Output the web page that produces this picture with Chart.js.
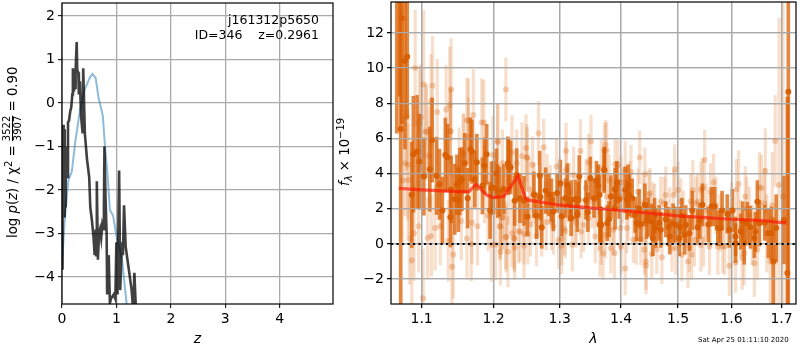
<!DOCTYPE html>
<html><head><meta charset="utf-8">
<style>html,body{margin:0;padding:0;background:#fff;width:800px;height:350px;overflow:hidden}
canvas{position:absolute;top:0}</style>
<script src="https://cdn.jsdelivr.net/npm/chart.js@4"></script>
</head><body>
<canvas id="pz" width="334" height="350" style="left:0"></canvas>
<canvas id="sp" width="466" height="352" style="left:334px;top:-2px"></canvas>
<script>
const zTicks=[0,1,2,3,4];
const pzTicks=[-4,-3,-2,-1,0,1,2];
const lamTicks=[1.1,1.2,1.3,1.4,1.5,1.6,1.7];
const fluxTicks=[-2,0,2,4,6,8,10,12];
const zBlack=[0,0.005,0.01,0.015,0.02,0.025,0.03,0.035,0.04,0.045,0.05,0.055,0.06,0.065,0.07,0.08,0.09,0.1,0.11,0.13,0.15,0.17,0.19,0.2,0.22,0.24,0.25,0.27,0.28,0.3,0.31,0.33,0.35,0.38,0.39,0.42,0.46,0.5,0.52,0.55,0.58,0.6,0.62,0.63,0.64,0.66,0.68,0.7,0.72,0.74,0.76,0.77,0.78,0.8,0.82,0.83,0.85,0.86,0.88,0.9,0.95,0.98,1.0,1.02,1.05,1.07,1.1,1.12,1.14,1.17,1.28,1.31,1.33,1.36];
const logBlack=[-3.8,-1.0,-2.6,-0.5,-2.5,-0.5,-2.6,-0.5,-2.6,-0.6,-1.0,-2.2,-1.0,-2.4,-1.6,-1.1,-1.0,-1.7,-0.45,-0.4,-0.2,-0.1,0.2,0.8,0.3,0.35,0.75,1.4,0.75,0.7,0.2,0.5,-0.3,-0.7,0.8,-0.7,-1.3,-1.7,-2.4,-2.7,-3.1,-3.5,-2.9,-3.5,-1.8,-3.6,-3.0,-2.9,-3.1,-2.8,-2.9,-2.4,-1.0,-2.2,-3.0,-4.4,-3.5,-3.6,-4.6,-4.5,-4.4,-4.5,-3.2,-4.4,-1.55,-4.3,-3.2,-3.5,-2.35,-3.3,-4.3,-4.8,-3.9,-4.8];
const zBlue=[0,0.055,0.117,0.18,0.24,0.33,0.42,0.51,0.56,0.62,0.67,0.75,0.79,0.83,0.88,0.94,1.0,1.1,1.19];
const logBlue=[-3.7,-2.6,-1.77,-1.58,-0.93,-0.17,0.32,0.58,0.67,0.57,0.13,-0.29,-1.0,-1.54,-2.45,-2.6,-3.05,-3.58,-4.64];
const lamModel=[1.07,1.1,1.15,1.165,1.175,1.19,1.2,1.215,1.225,1.236,1.247,1.25,1.3,1.33,1.4,1.5,1.6,1.66,1.7,1.71];
const fluxModel=[3.16,3.07,2.97,2.99,3.39,2.78,2.63,2.7,3.26,3.86,2.63,2.5,2.2,2.1,1.9,1.59,1.4,1.33,1.21,1.2];
const zeroLam=[1.06,1.73];
const zeroFlux=[0,0];
const lamFaint=[
1.0914,1.1026,1.1146,1.14,1.1125,1.133,1.138,1.121,1.218,1.08,
1.099,1.097,1.162,1.171,1.183,1.106,1.139,1.164,1.206,1.267,
1.275,1.248,1.227,1.31,1.333,1.082,1.11,1.157,1.199,1.242,
1.249,1.258,1.295,1.075,1.084,1.09,1.096,1.087,1.102,1.108,
1.113,1.118,1.125,1.136,1.143,1.141,1.154,1.162,1.168,1.169,
1.177,1.192,1.197,1.203,1.209,1.21,1.213,1.218,1.221,1.227,
1.231,1.231,1.237,1.245,1.245,1.251,1.255,1.264,1.272,1.279,
1.29,1.298,1.303,1.303,1.309,1.32,1.326,1.334,1.374,1.372,
1.432,1.395,1.39,1.367,1.407,1.417,1.441,1.494,1.5,1.429,
1.392,1.448,1.478,1.492,1.527,1.523,1.505,1.469,1.438,1.412,
1.387,1.399,1.41,1.374,1.367,1.37,1.365,1.383,1.389,1.4,
1.407,1.421,1.426,1.434,1.44,1.443,1.443,1.453,1.462,1.471,
1.489,1.496,1.507,1.518,1.525,1.521,1.53,1.549,1.687,1.667,
1.566,1.614,1.61,1.627,1.655,1.659,1.545,1.542,1.56,1.536,
1.695,1.703,1.681,1.547,1.574,1.587,1.625,1.621,1.596,1.608,
1.645,1.677,1.651,1.687,1.542,1.558,1.56,1.635,1.641,1.618,
1.583,1.25,1.234,1.213,1.35,1.376,1.346,1.31,1.239,1.23,
1.218,1.21,1.213,1.287,1.307,1.325,1.338,1.346,1.357,1.376,
1.285,1.106,1.139,1.078,1.082,1.164,1.186,1.206,1.157,1.151,
1.187,1.222,1.26,1.28,1.315,1.342,1.36,1.38,1.403,1.415,
1.45,1.458,1.475,1.485,1.51,1.533,1.552,1.57,1.578,1.6,
1.63,1.665,1.67,1.253,1.268,1.3,1.322,1.352,1.4,1.455];
const fluxFaint=[
10.0,9.07,9.0,8.78,8.08,7.65,7.9,7.5,8.78,7.2,
7.2,6.9,7.04,7.33,6.9,6.4,6.4,6.1,5.8,6.3,
5.5,5.45,5.2,5.28,5.28,4.5,5,5.1,5.05,5,
4.9,4.5,4.4,3.6,0.3,0.6,1.0,-0.95,-3.1,0.33,
0.45,0.9,1.0,0.17,-0.6,-1.3,1.3,0.3,0,1.2,
1.0,1.6,-0.05,-0.05,1,-0.45,1.5,0.4,-0.45,0.6,
0.3,-0.2,0.7,0.55,-0.1,0.55,1.1,0.45,0.9,1.25,
1,0.2,0.3,-0.1,0.7,-0.05,1.2,0.7,5.63,5.34,
4.92,4.49,4.53,4.3,4.24,4.11,3.96,4.24,3.07,2.97,
3.35,2.78,2.78,2.78,3.07,2.41,2.41,2.41,2.31,1.59,
0.8,0.9,0.9,0.5,0.23,-0.53,-0.25,-0.25,-0.53,-0.15,
-1.4,0.23,0.23,0.28,-0.34,-1,-1.25,-0.57,-0.3,-0.76,
-0.25,-0.25,-0.62,-1,-0.62,-0.19,0.23,4.77,5.85,4.15,
3.5,3.41,3.11,2.69,3.22,3.16,3.16,3.07,2.97,2.41,
3.35,2.69,2.2,0.23,-0.15,-0.15,-0.53,-0.81,-1.25,-1.06,
-1.1,-1,-0.34,-1,-0.06,-0.15,1.36,1.65,0.5,0.9,
-0.15,4.93,4.59,4.59,5.82,5.31,4.64,4.21,0.7,0.33,
0.38,0.99,1.5,1.27,0.86,1.46,1.08,1.46,0.42,2.69,
2.79,6.38,6.42,4.59,3.64,7.0,6.9,5.82,5.16,4.3,
3.4,3.1,2.9,3.4,3.0,3.2,2.5,3.6,2.7,3.3,
2.9,1.9,2.3,1.7,1.6,2.3,1.9,2.2,1.2,1.9,
2.0,2.3,0.6,3.1,2.2,3.3,3.9,2.4,3.5,2.0];
const errFaint=[
3.3,4.2,2.8,2.9,2.7,2.5,3.3,3.0,1.8,3.0,
3.0,3.2,2.4,2.6,2.5,2.7,2.4,2.2,2.2,1.8,
1.6,1.9,2.1,1.6,1.8,3.1,2.8,2.3,2.2,1.9,
1.9,1.6,1.6,3.5,2.6,2.7,2.6,3.0,2.8,2.3,
2.3,2.4,2.2,2.3,2.5,2.6,2.2,2.2,2.1,2.3,
2.2,2.0,2.1,2.0,1.9,1.9,1.8,2.0,2.0,1.9,
1.9,1.8,1.8,1.7,1.8,1.7,1.8,1.7,1.6,1.6,
1.6,1.6,1.5,1.6,1.5,1.5,1.4,1.5,1.4,1.5,
1.5,1.4,1.4,1.6,1.6,1.5,1.5,1.4,1.6,1.3,
1.3,1.4,1.6,1.4,1.7,1.6,1.3,1.4,1.5,1.4,
1.4,1.3,1.4,1.3,1.4,1.5,1.6,1.4,1.4,1.5,
1.5,1.3,1.4,1.5,1.4,1.6,1.6,1.4,1.4,1.5,
1.3,1.5,1.5,1.5,1.4,1.4,1.5,1.7,2.6,2.4,
1.6,1.9,1.7,1.7,2.0,1.9,1.7,1.6,1.6,1.6,
9.5,12,3.0,1.5,1.6,1.6,1.8,1.8,1.7,1.7,
1.9,2.6,1.7,3.0,1.5,1.6,1.5,1.6,1.7,1.6,
1.5,1.7,1.9,1.9,1.5,1.6,1.6,1.6,1.7,1.8,
1.8,1.8,1.8,1.6,1.5,1.5,1.5,1.5,1.5,1.4,
1.7,2.6,2.5,3.0,3.2,2.4,2.4,2.1,2.2,2.3,
2.2,2.0,1.7,1.7,1.6,1.6,1.5,1.5,1.5,1.4,
1.4,1.5,1.5,1.5,1.4,1.5,1.5,1.6,1.6,1.6,
1.8,2.0,2.2,1.8,1.7,1.6,1.6,1.5,1.5,1.5];
const lamDark=[
1.0675,1.071,1.0725,1.074,1.078,1.081,1.087,1.089,1.094,1.097,
1.103,1.111,1.114,1.12,1.124,1.128,1.132,1.135,1.139,1.145,
1.148,1.152,1.155,1.159,1.163,1.167,1.169,1.173,1.176,1.184,
1.187,1.195,1.197,1.221,1.222,1.225,1.215,1.209,1.234,1.231,
1.239,1.245,1.26,1.269,1.264,1.272,1.27,1.278,1.283,1.287,
1.29,1.301,1.303,1.309,1.312,1.318,1.318,1.325,1.33,1.331,
1.342,1.349,1.355,1.359,1.365,1.372,1.364,1.367,1.25,1.372,
1.383,1.39,1.397,1.365,1.377,1.407,1.41,1.414,1.419,1.424,
1.427,1.434,1.441,1.447,1.453,1.455,1.46,1.469,1.483,1.485,
1.502,1.512,1.514,1.521,1.39,1.503,1.491,1.536,1.545,1.562,
1.568,1.574,1.579,1.592,1.596,1.608,1.618,1.631,1.637,1.647,
1.655,1.645,1.673,1.679,1.689,1.705,1.683,1.625,1.608,1.714,
1.712,1.2,1.204,1.206,1.296,1.315,1.328,1.345,1.362,1.38,
1.393,1.412,1.431,1.444,1.458,1.466,1.478,1.495,1.507,1.526,
1.54,1.556,1.582,1.602,1.622,1.651,1.666,1.14,1.15,1.19];
const fluxDark=[
14.5,16,6.53,12.84,10.4,10.64,2.79,5.1,5.25,4.68,
3.83,4.25,5.91,3.87,3.39,1.9,5.06,4.91,1.52,2.54,
3.36,3.55,3.68,4.59,2.6,5.38,5.25,3.68,4.64,3.3,
4.44,1.9,3.17,4.59,4.4,4.36,3.11,2.98,3.92,2.45,
2.6,2.45,2.79,3.87,1.6,0.95,2.66,3.03,2.79,2.5,
1.84,3.45,1.56,2.6,3.36,2.5,1.46,2.54,2.5,3.83,
2.5,3.74,2.6,3.6,1.14,4.21,2.79,1.08,1.56,4.2,
2.69,3.11,2.54,1.08,1.18,3.07,2.5,2.78,2.6,1.65,
1.18,1.13,2.22,1.52,1.27,0.32,0.9,0.8,0.98,0.42,
0.32,0.51,1.08,0.6,2.03,0.98,1.18,0.95,2.22,2.12,
2.12,0.9,0.9,1.7,0.8,0.42,0.7,1.17,0.95,0.7,
1.17,0.32,0.6,0.6,0.9,1.36,-1,0.04,0.04,8.65,
-1.65,3.2,4.0,3.0,2.9,2.3,1.7,1.8,3.3,1.4,
3.5,3.3,2.0,1.3,1.6,1.2,1.4,1.1,1.6,1.9,
1.3,1.1,1.9,1.9,1.3,2.4,1.2,3.1,2.5,5.1];
const errDark=[
8.2,7.6,12,6,5,3.5,3.0,3.3,3.2,2.7,
2.2,2.4,2.4,2.2,2.0,1.9,2.1,1.9,1.7,2.0,
1.7,1.9,1.8,1.7,1.7,1.8,1.8,1.6,1.6,1.6,
1.6,1.6,1.5,1.5,1.6,1.5,1.4,1.4,1.5,1.4,
1.4,1.4,1.3,1.4,1.3,1.2,1.3,1.3,1.2,1.2,
1.1,1.3,1.1,1.1,1.2,1.1,1.0,1.1,1.0,1.2,
1.1,1.2,1.1,1.1,1.0,1.2,1.1,1.0,1.1,1.3,
1.2,1.2,1.1,1.0,1.0,1.3,1.1,1.2,1.1,1.0,
1.0,1.0,1.2,1.1,1.0,1.0,1.1,1.0,1.1,1.0,
1.0,1.1,1.1,1.0,1.2,1.1,1.1,1.0,1.2,1.1,
1.1,1.0,1.0,1.1,1.0,1.1,1.0,1.2,1.2,1.1,
1.3,1.1,1.4,1.5,1.9,2.5,2.5,1.2,1.1,14,
10,1.5,1.4,1.5,1.1,1.0,1.0,1.1,1.2,1.0,
1.2,1.2,1.1,1.0,1.0,1.0,1.0,1.0,1.0,1.1,
1.0,1.0,1.1,1.2,1.1,1.2,1.0,1.9,1.8,1.7];

const FONT='"DejaVu Sans"';
const GRID='#aaaaaa';
const fmt=v=>String(v).replace('-','\u2212');
const ticksFrom=a=>s=>{s.ticks=a.map(v=>({value:v}));};
const pairs=(xs,ys)=>xs.map((x,i)=>({x,y:ys[i]}));
const ranges=(xs,ys,es)=>xs.map((x,i)=>({x,y:[ys[i]-es[i],ys[i]+es[i]]}));
function axis(extra,arr,fitKey,fitVal,labelFn){
  return Object.assign({
    grid:{color:GRID,lineWidth:1.3,tickColor:'#000',tickWidth:1,tickLength:4,offset:false},
    border:{display:false},
    offset:false,
    afterBuildTicks:ticksFrom(arr),
    afterFit:s=>{s[fitKey]=fitVal;s.paddingTop=0;s.paddingBottom=0;s.paddingLeft=0;s.paddingRight=0;},
    ticks:{color:'#000',font:{family:FONT,size:14},padding:3,autoSkip:false,maxRotation:0,callback:labelFn||(v=>fmt(v))}
  },extra);
}
function run(ctx,x,y,parts){
  let p=x;
  for(const r of parts){
    ctx.font=(r.i?'italic ':'')+(r.s||13.3)+'px '+FONT;
    if(r.stack){
      const w=Math.max(ctx.measureText(r.stack[0]).width,ctx.measureText(r.stack[1]).width);
      ctx.fillText(r.stack[0],p,y-7);
      ctx.fillText(r.stack[1],p,y+4);
      ctx.fillRect(p,y-5,w,1);
      p+=w;
    }else{
      ctx.fillText(r.t,p,y+(r.d||0));
      p+=ctx.measureText(r.t).width;
    }
  }
}
const framePlugin={id:'frame',afterDraw(c){
  const a=c.chartArea,x=c.ctx;
  x.save();x.strokeStyle='#000';x.lineWidth=1.2;
  x.strokeRect(a.left,a.top,a.right-a.left,a.bottom-a.top);x.restore();
}};
const leftText={id:'leftText',afterDraw(c){
  const x=c.ctx;x.save();x.fillStyle='#000';x.textBaseline='alphabetic';
  x.font='12.5px '+FONT;x.textAlign='right';
  x.fillText('j161312p5650',319,24);
  x.fillText('ID=346    z=0.2961',319,39);
  x.textAlign='left';
  x.translate(17,238);x.rotate(-Math.PI/2);
  run(x,0,0,[{t:'log '},{t:'p',i:1},{t:'('},{t:'z',i:1},{t:') / \u03C7'},{t:'2',s:10,d:-5},{t:' = '},{stack:['3522','3907'],s:10},{t:' = 0.90'}]);
  x.restore();
}};
const rightText={id:'rightText',afterDraw(c){
  const x=c.ctx;x.save();x.fillStyle='#000';x.textBaseline='alphabetic';
  x.font='7px '+FONT;x.textAlign='left';
  x.fillText('Sat Apr 25 01:11:10 2020',364,344);
  x.translate(15,188);x.rotate(-Math.PI/2);
  run(x,0,0,[{t:'f',i:1},{t:'\u03BB',i:1,s:10,d:3},{t:' \u00D7 10'},{t:'\u221219',s:10,d:-5}]);
  x.restore();
}};
const gridOverBars={id:'gridOverBars',afterDatasetDraw(c,args){
  if(c.data.datasets[args.index].label==='barsDark'){
    c.scales.x.drawGrid(c.chartArea);c.scales.y.drawGrid(c.chartArea);
  }
}};

new Chart(document.getElementById('pz'),{
  type:'scatter',
  data:{datasets:[
    {data:pairs(zBlack,logBlack),showLine:true,pointRadius:0,borderColor:'rgba(0,0,0,0.75)',borderWidth:2.6,borderJoinStyle:'miter'},
    {data:pairs(zBlue,logBlue),showLine:true,pointRadius:0,borderColor:'rgba(31,119,180,0.5)',borderWidth:2}
  ]},
  options:{responsive:false,animation:false,
    layout:{padding:{top:3,right:1,left:0,bottom:0}},
    plugins:{legend:{display:false},tooltip:{enabled:false}},
    scales:{
      x:axis({type:'linear',min:0,max:4.98,title:{display:true,text:'z',color:'#000',font:{family:FONT,size:14,style:'italic'},padding:{top:0,bottom:2}}},zTicks,'height',46),
      y:axis({type:'linear',min:-4.62,max:2.3},pzTicks,'width',62)
    }},
  plugins:[framePlugin,leftText]
});
new Chart(document.getElementById('sp'),{
  type:'scatter',
  data:{datasets:[
    {data:pairs(zeroLam,zeroFlux),showLine:true,pointRadius:0,borderColor:'#000',borderWidth:2,borderDash:[2.2,3.3]},
    {data:pairs(lamModel,fluxModel),showLine:true,pointRadius:0,borderColor:'rgba(255,20,0,0.65)',borderWidth:3.2},
    {data:pairs(lamDark,fluxDark),pointRadius:3,pointBorderWidth:0,pointBackgroundColor:'rgba(217,95,2,0.95)'},
    {data:pairs(lamFaint,fluxFaint),pointRadius:3,pointBorderWidth:0,pointBackgroundColor:'rgba(217,95,2,0.28)'},
    {type:'bar',label:'barsDark',data:ranges(lamDark,fluxDark,errDark),barThickness:3,grouped:false,backgroundColor:'rgba(217,95,2,0.75)',borderWidth:0},
    {type:'bar',label:'barsFaint',data:ranges(lamFaint,fluxFaint,errFaint),barThickness:2.6,grouped:false,backgroundColor:'rgba(217,95,2,0.2)',borderWidth:0}
  ]},
  options:{responsive:false,animation:false,
    layout:{padding:{top:0,right:1,left:0,bottom:0}},
    plugins:{legend:{display:false},tooltip:{enabled:false}},
    scales:{
      x:axis({type:'logarithmic',min:1.06,max:1.73,title:{display:true,text:'\u03BB',color:'#000',font:{family:FONT,size:14,style:'italic'},padding:{top:0,bottom:2}}},lamTicks,'height',46,v=>v.toFixed(1)),
      y:axis({type:'linear',min:-3.42,max:13.76},fluxTicks,'width',57)
    }},
  plugins:[framePlugin,gridOverBars,rightText]
});
</script>
</body></html>
